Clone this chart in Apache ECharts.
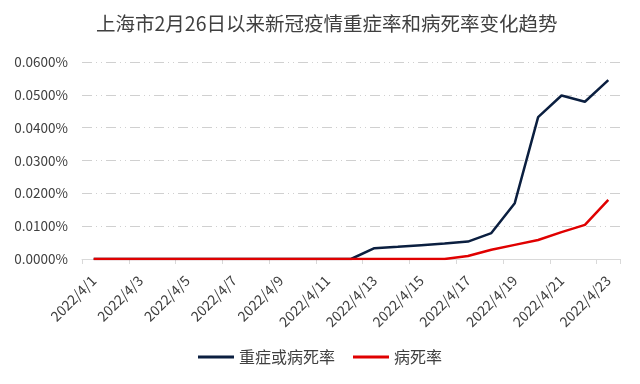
<!DOCTYPE html>
<html>
<head>
<meta charset="utf-8">
<script src="https://cdn.jsdelivr.net/npm/echarts@6/dist/echarts.min.js"></script>
<style>html,body{margin:0;padding:0;background:#fff}#c{width:640px;height:384px}</style>
</head>
<body>
<div id="c"></div>
<script>
var categories = ['2022/4/1','2022/4/2','2022/4/3','2022/4/4','2022/4/5','2022/4/6','2022/4/7','2022/4/8','2022/4/9','2022/4/10','2022/4/11','2022/4/12','2022/4/13','2022/4/14','2022/4/15','2022/4/16','2022/4/17','2022/4/18','2022/4/19','2022/4/20','2022/4/21','2022/4/22','2022/4/23'];
// values in percent
var severeOrDeath = [0,0,0,0,0,0,0,0,0,0,0,0,0.0033,0.0037,0.0042,0.0047,0.0053,0.0079,0.0170,0.0432,0.0498,0.0479,0.0545];
var deathRate = [0,0,0,0,0,0,0,0,0,0,0,0,0,0,0,0,0.0009,0.0028,0.0043,0.0058,0.0082,0.0104,0.0180];
var seriesNames = ['重症或病死率','病死率'];
var titleText = '上海市2月26日以来新冠疫情重症率和病死率变化趋势';

var chart = echarts.init(document.getElementById('c'));
var font = '"Noto Sans CJK SC", "Noto Sans", sans-serif';
chart.setOption({
  animation: false,
  title: {
    text: titleText, left: 91, top: 9,
    textStyle: {fontFamily: font, fontSize: 19.5, fontWeight: 'normal', color: '#404040'}
  },
  legend: {
    bottom: 14, left: 'center', itemWidth: 36, itemHeight: 3, itemGap: 18,
    icon: 'rect',
    textStyle: {fontFamily: font, fontSize: 16, color: '#404040'},
    data: seriesNames
  },
  grid: {left: 82, right: 20, top: 62, bottom: 125, containLabel: false},
  xAxis: {
    type: 'category', data: categories, boundaryGap: true,
    axisLine: {lineStyle: {color: '#d9d9d9', width: 1}},
    axisTick: {show: true, interval: 1, length: 5, lineStyle: {color: '#d9d9d9'}},
    axisLabel: {interval: 1, rotate: 45, fontFamily: font, fontSize: 14, color: '#404040', margin: 19}
  },
  yAxis: {
    type: 'value', min: 0, max: 0.06, interval: 0.01,
    axisLine: {show: false}, axisTick: {show: false},
    axisLabel: {fontFamily: font, fontSize: 13.5, color: '#404040', margin: 14,
      formatter: function(v){ return v.toFixed(4) + '%'; }},
    splitLine: {lineStyle: {color: '#d0d0d0', width: 1, type: [10,4,1,4,1,4]}}
  },
  series: [
    {name: seriesNames[0], type: 'line', data: severeOrDeath, symbol: 'none',
     lineStyle: {color: '#0b1f40', width: 2.5}, itemStyle: {color: '#0b1f40'}, z: 3},
    {name: seriesNames[1], type: 'line', data: deathRate, symbol: 'none',
     lineStyle: {color: '#e00000', width: 2.5}, itemStyle: {color: '#e00000'}, z: 4}
  ]
});
</script>
</body>
</html>
